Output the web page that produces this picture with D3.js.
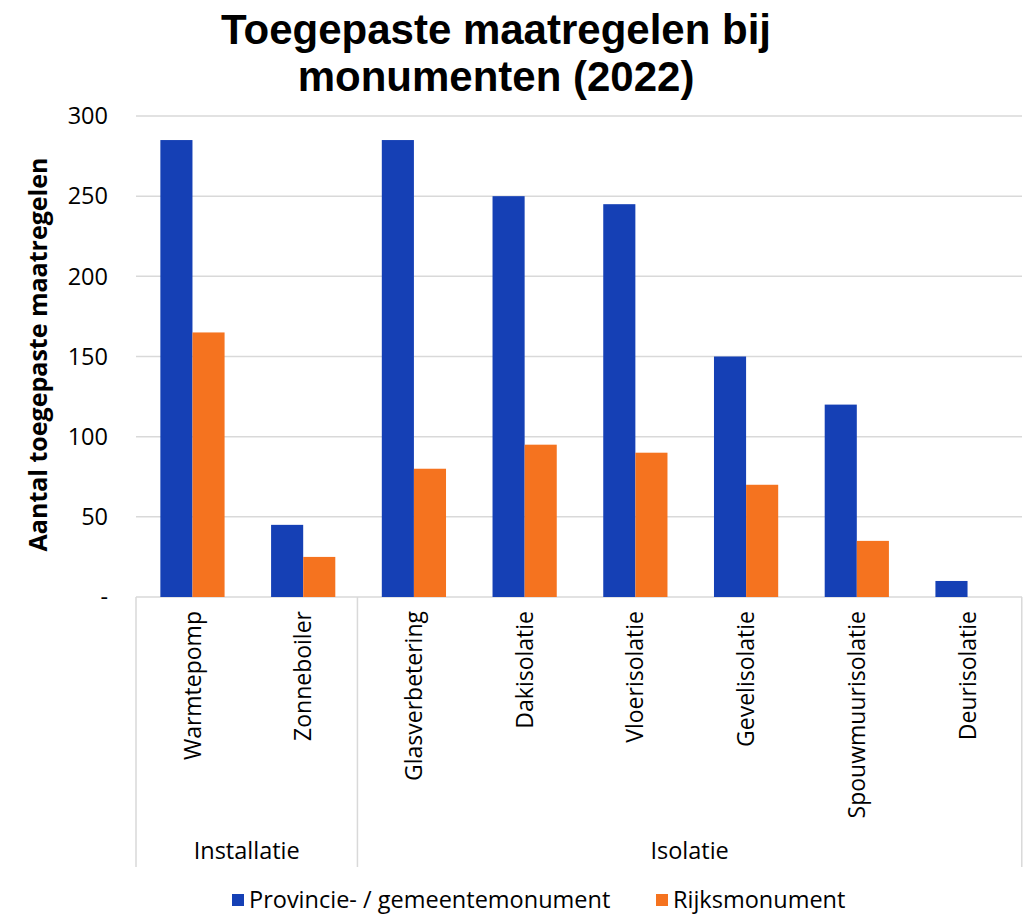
<!DOCTYPE html>
<html>
<head>
<meta charset="utf-8">
<script src="https://cdn.jsdelivr.net/npm/d3@7"></script>
<style>
  body { margin: 0; background: #fff; }
  svg { font-family: "Open Sans", "Noto Sans", sans-serif; }
</style>
</head>
<body>
<div id="chart"></div>
<script>
// data
var categories = ["Warmtepomp", "Zonneboiler", "Glasverbetering", "Dakisolatie",
                  "Vloerisolatie", "Gevelisolatie", "Spouwmuurisolatie", "Deurisolatie"];
var groups = ["Installatie", "Installatie", "Isolatie", "Isolatie",
              "Isolatie", "Isolatie", "Isolatie", "Isolatie"];
var seriesNames = ["Provincie- / gemeentemonument", "Rijksmonument"];
var provincie = [285, 45, 285, 250, 245, 150, 120, 10];
var rijks = [165, 25, 80, 95, 90, 70, 35, 0];
var yTicks = [0, 50, 100, 150, 200, 250, 300];
var titleLines = ["Toegepaste maatregelen bij", "monumenten (2022)"];
var colors = ["#1540b5", "#f5731f"];

var width = 1024, height = 915;
var margin = {top: 116, right: 0, bottom: 318, left: 136};
var innerW = width - margin.left - margin.right,
    innerH = height - margin.top - margin.bottom;

var svg = d3.select("#chart").append("svg")
    .attr("width", width)
    .attr("height", height);

// title, one text per line
svg.append("g")
  .selectAll("text")
    .data(titleLines)
    .enter().append("text")
    .attr("x", 496)
    .attr("y", function(d, i) { return 44 + i * 47; })
    .attr("text-anchor", "middle")
    .style("font-family", "'Liberation Sans', Arial, sans-serif")
    .style("font-size", "42px").style("font-weight", "bold")
    .text(function(d) { return d; });

var g = svg.append("g")
    .attr("transform", "translate(" + margin.left + "," + margin.top + ")");

var x = d3.scaleBand()
    .domain(categories)
    .range([0, innerW])
    .paddingInner(0.42)
    .paddingOuter(0.22);

var xSub = d3.scaleBand()
    .domain([0, 1])
    .range([0, x.bandwidth()]);

var y = d3.scaleLinear()
    .domain([0, 300])
    .range([innerH, 0]);

// gridlines
g.append("g")
    .selectAll("line")
    .data(yTicks)
    .enter().append("line")
    .attr("x1", 0).attr("x2", innerW - 2)
    .attr("y1", function(d) { return y(d); })
    .attr("y2", function(d) { return y(d); })
    .style("stroke", "#d9d9d9")
    .style("stroke-width", 1.5);

// y tick labels
g.append("g")
    .selectAll("text")
    .data(yTicks)
    .enter().append("text")
    .attr("x", -28)
    .attr("y", function(d) { return y(d); })
    .attr("dy", "0.35em")
    .attr("text-anchor", "end")
    .style("font-size", "23.5px")
    .text(function(d) { return d === 0 ? "-" : d; });

// y axis title
svg.append("text")
    .attr("transform", "translate(47," + (margin.top + innerH / 2 - 2) + ") rotate(-90)")
    .attr("text-anchor", "middle")
    .style("font-size", "25px").style("font-weight", "bold")
    .text("Aantal toegepaste maatregelen");

// bars
var data = categories.map(function(c, i) {
  return {cat: c, values: [provincie[i], rijks[i]]};
});

var cat = g.selectAll(".cat")
    .data(data)
    .enter().append("g")
    .attr("class", "cat")
    .attr("transform", function(d) { return "translate(" + x(d.cat) + ",0)"; });

cat.selectAll("rect")
    .data(function(d) { return d.values; })
    .enter().append("rect")
    .attr("x", function(d, i) { return xSub(i); })
    .attr("width", xSub.bandwidth())
    .attr("y", function(d) { return y(d); })
    .attr("height", function(d) { return innerH - y(d); })
    .style("fill", function(d, i) { return colors[i]; });

// category labels
g.append("g")
    .selectAll("text")
    .data(categories)
    .enter().append("text")
    .attr("transform", function(d) {
      return "translate(" + (x(d) + x.bandwidth() / 2) + "," + (innerH + 14) + ") rotate(-90)";
    })
    .attr("dy", "0.35em")
    .attr("text-anchor", "end")
    .style("font-size", "23px")
    .text(function(d) { return d; });

// group separators and labels
var step = x.step();
var groupNames = Array.from(new Set(groups));
var groupInfo = groupNames.map(function(name) {
  var idx = groups.map(function(gr, i) { return gr === name ? i : -1; })
                  .filter(function(i) { return i >= 0; });
  return {name: name, start: idx[0] * step, end: (idx[idx.length - 1] + 1) * step};
});

var bounds = [0].concat(groupInfo.map(function(d) { return d.end; }));
g.append("g")
    .selectAll("line")
    .data(bounds)
    .enter().append("line")
    .attr("x1", function(d) { return d; })
    .attr("x2", function(d) { return d; })
    .attr("y1", innerH)
    .attr("y2", innerH + 270)
    .style("stroke", "#d9d9d9")
    .style("stroke-width", 1.5);

g.append("g")
    .selectAll("text")
    .data(groupInfo)
    .enter().append("text")
    .attr("x", function(d) { return (d.start + d.end) / 2; })
    .attr("y", innerH + 262)
    .attr("text-anchor", "middle")
    .style("font-size", "23.5px")
    .text(function(d) { return d.name; });

// legend
var legendX = [232, 656];
var legend = svg.append("g")
    .selectAll("g")
    .data(seriesNames)
    .enter().append("g")
    .attr("transform", function(d, i) { return "translate(" + legendX[i] + ",894)"; });

legend.append("rect")
    .attr("width", 12).attr("height", 12)
    .style("fill", function(d, i) { return colors[i]; });

legend.append("text")
    .attr("x", 17).attr("y", 6)
    .attr("dy", "0.35em")
    .style("font-size", "23.5px")
    .text(function(d) { return d; });
</script>
</body>
</html>
